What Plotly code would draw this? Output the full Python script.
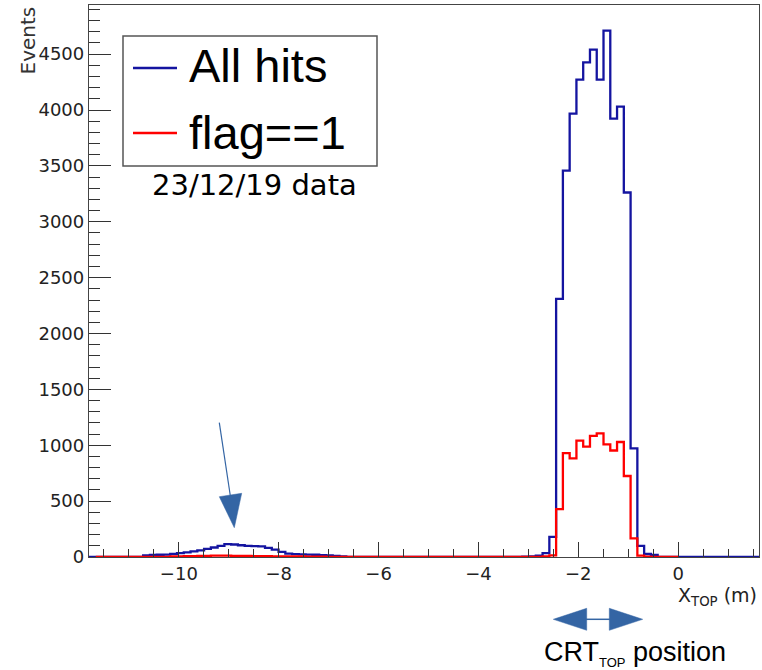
import plotly.graph_objects as go

# ---------------- data ----------------
bin_start = -11.8
bin_width = 0.1356
n_bins = 99

# "All hits" histogram contents (bins 0..98)
blue_counts = (
    [0, 0, 0, 0, 0, 0, 0, 0]
    + [15, 18, 20, 22]
    + [28, 35, 42]
    + [50, 60, 72, 85, 100, 115, 112, 105, 100, 98]
    + [95, 82, 66, 45, 30, 25, 24, 22, 20, 17, 14, 10, 6]
    + [0] * 26
    + [3, 6, 12, 35, 180]
    + [2310, 3457, 3967, 4272, 4427, 4540, 4272, 4710, 3923, 4030, 3262]
    + [973, 100, 27, 18]
    + [0] * 15
)

# "flag==1" histogram contents (bins 1..86)
red_first_bin = 1
red_counts = (
    [0] * 11
    + [5, 6, 8, 8, 10, 10, 12, 12, 12, 10, 10, 10, 8, 8, 8, 6, 6, 5, 5, 5, 4, 4, 3]
    + [0] * 32
    + [5, 15, 428, 929, 883, 1042, 988, 1084, 1107, 1008, 953, 1029, 725, 167, 12, 4]
    + [0] * 4
)

x_ticks_major = 2
x_ticks_minor = 0.5
y_ticks_major = 500
y_ticks_minor = 100

blue_col = "#1414a0"
red_col = "#ff0000"
annot_col = "#3465a4"

# ---------------- figure ----------------
edges = [bin_start + i * bin_width for i in range(n_bins + 1)]
red_edges = edges[red_first_bin:red_first_bin + len(red_counts) + 1]

fig = go.Figure()
fig.add_trace(go.Scatter(
    x=edges, y=blue_counts + [blue_counts[-1]], mode="lines",
    line=dict(shape="hv", color=blue_col, width=2.3), name="All hits",
    showlegend=False, hoverinfo="skip"))
fig.add_trace(go.Scatter(
    x=red_edges, y=red_counts + [red_counts[-1]], mode="lines",
    line=dict(shape="hv", color=red_col, width=2.3), name="flag==1",
    showlegend=False, hoverinfo="skip"))

L, R, T, B = 89, 3, 5, 113
W, H = 762, 670
PW, PH = W - L - R, H - T - B


def px(x):
    return (x - L) / PW


def py(y):
    return (H - B - y) / PH


axis_font = dict(family="DejaVu Sans", size=18, color="#222")

fig.update_layout(
    width=W, height=H,
    margin=dict(l=L, r=R, t=T, b=B, pad=0),
    paper_bgcolor="white", plot_bgcolor="white",
    xaxis=dict(range=[-11.8, 1.62], tick0=0, dtick=x_ticks_major,
               ticks="inside", ticklen=15, tickwidth=1.2, tickcolor="#333",
               showline=True, linecolor="#444", linewidth=1.3, mirror=True,
               showgrid=False, zeroline=False, tickfont=axis_font,
               minor=dict(dtick=x_ticks_minor, tick0=0, ticks="inside",
                          ticklen=8, tickwidth=1.2, tickcolor="#333", showgrid=False)),
    yaxis=dict(range=[0, 4940], tick0=0, dtick=y_ticks_major,
               ticks="inside", ticklen=22, tickwidth=1.2, tickcolor="#333",
               showline=True, linecolor="#444", linewidth=1.3, mirror=True,
               showgrid=False, zeroline=False, tickfont=axis_font,
               minor=dict(dtick=y_ticks_minor, tick0=0, ticks="inside",
                          ticklen=11, tickwidth=1.2, tickcolor="#333", showgrid=False)),
)

shapes = []
# legend box
shapes.append(dict(type="rect", xref="paper", yref="paper",
                   x0=px(123), x1=px(377), y0=py(166), y1=py(36),
                   line=dict(color="#555", width=1.5), fillcolor="white", layer="above"))
shapes.append(dict(type="line", xref="paper", yref="paper",
                   x0=px(133), x1=px(177), y0=py(68), y1=py(68),
                   line=dict(color=blue_col, width=2.3), layer="above"))
shapes.append(dict(type="line", xref="paper", yref="paper",
                   x0=px(133), x1=px(177), y0=py(133), y1=py(133),
                   line=dict(color=red_col, width=2.3), layer="above"))
# arrow pointing at the bump
shapes.append(dict(type="line", xref="paper", yref="paper",
                   x0=px(219.3), y0=py(422.7), x1=px(230.5), y1=py(497),
                   line=dict(color=annot_col, width=1.2), layer="above"))


def tri(pts):
    s = "M " + " L ".join(f"{px(a):.5f},{py(b):.5f}" for a, b in pts) + " Z"
    return dict(type="path", xref="paper", yref="paper", path=s,
                fillcolor=annot_col, line=dict(color=annot_col, width=0.5), layer="above")


shapes.append(tri([(219.3, 496.7), (241.7, 493.3), (234.3, 527.7)]))
# double arrow below axis
shapes.append(tri([(553.3, 619.3), (586.7, 608.3), (586.7, 630.3)]))
shapes.append(tri([(642.7, 619.3), (609.3, 608.3), (609.3, 630.3)]))
shapes.append(dict(type="line", xref="paper", yref="paper",
                   x0=px(586), y0=py(619.3), x1=px(610), y1=py(619.3),
                   line=dict(color=annot_col, width=1.5), layer="above"))
fig.update_layout(shapes=shapes)

ann = []
ann.append(dict(text="All hits", xref="paper", yref="paper", x=px(187), y=py(65.7),
                xanchor="left", yanchor="middle", showarrow=False,
                font=dict(family="Liberation Sans", size=47, color="black")))
ann.append(dict(text="flag==1", xref="paper", yref="paper", x=px(187), y=py(132),
                xanchor="left", yanchor="middle", showarrow=False,
                font=dict(family="Liberation Sans", size=47, color="black")))
ann.append(dict(text="23/12/19 data", xref="paper", yref="paper", x=px(150), y=py(185.5),
                xanchor="left", yanchor="middle", showarrow=False,
                font=dict(family="DejaVu Sans", size=29, color="black")))
ann.append(dict(text="Events", xref="paper", yref="paper", x=px(27.5), y=py(5),
                xanchor="center", yanchor="top", textangle=-90, showarrow=False,
                font=dict(family="DejaVu Sans", size=20, color="#333")))
ann.append(dict(text="X<sub>TOP</sub> (m)", xref="paper", yref="paper", x=px(759), y=py(596),
                xanchor="right", yanchor="middle", showarrow=False,
                font=dict(family="DejaVu Sans", size=19, color="#222")))
ann.append(dict(text="CRT<sub><span style='font-size:13px'>TOP</span></sub> position",
                xref="paper", yref="paper", x=px(541.7), y=py(635),
                xanchor="left", yanchor="top", showarrow=False,
                font=dict(family="Liberation Sans", size=27, color="black")))
fig.update_layout(annotations=ann)

fig.write_html("out.html", config={"displayModeBar": False},
               post_script="document.body.style.margin='0';document.body.style.overflow='hidden';")
